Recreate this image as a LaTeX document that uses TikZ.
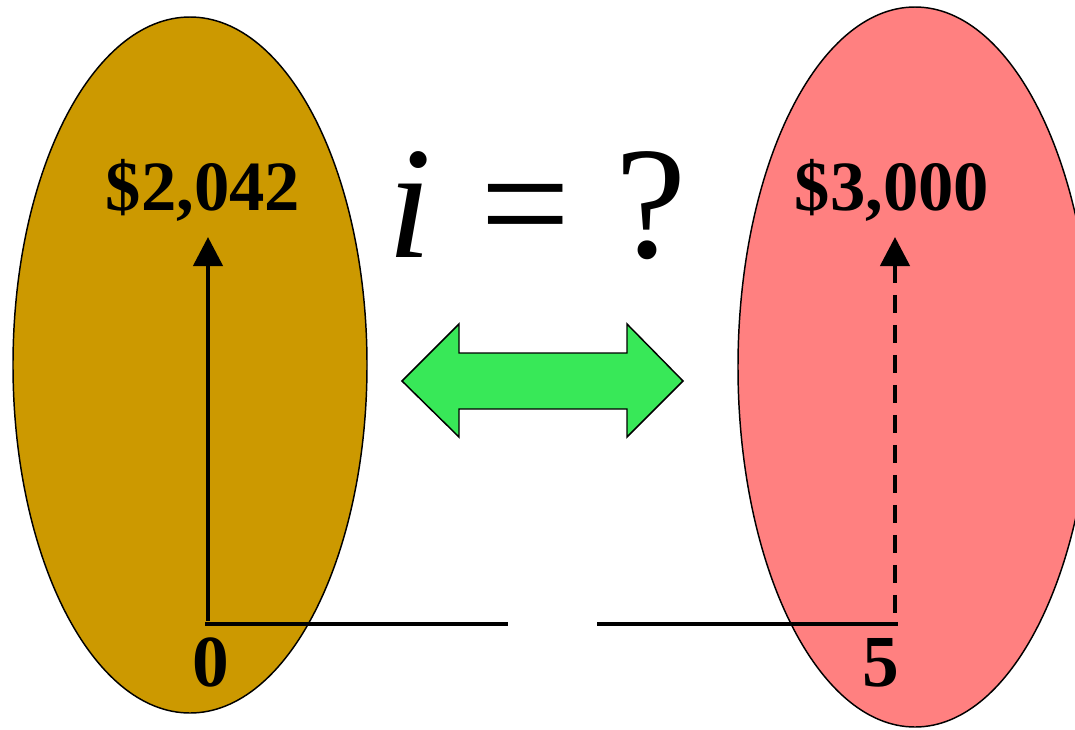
\documentclass[tikz,border=0pt]{standalone}
\usepackage{fontspec}
\setmainfont{Liberation Serif}
\usetikzlibrary{arrows.meta}
\definecolor{gold}{RGB}{204,153,0}
\definecolor{pinkish}{RGB}{255,128,128}
\definecolor{arrgreen}{RGB}{56,232,88}
\tikzset{
  blob/.style={draw=black, line width=1.1pt},
  axis/.style={line width=3.4pt, line cap=butt},
  cflow/.style={line width=3.4pt, -{Triangle[width=21.75pt,length=21.75pt]}},
  dflow/.style={line width=3.4pt, dash pattern=on 13.5pt off 9pt, {Triangle[width=21.75pt,length=21.75pt]}-},
  money/.style={font=\fontsize{53}{60}\selectfont\bfseries, anchor=base, inner sep=0pt},
  period/.style={font=\fontsize{55}{60}\selectfont\bfseries, anchor=base, inner sep=0pt},
  bigq/.style={font=\fontsize{120}{130}\selectfont, anchor=base, inner sep=0pt},
  dbl/.style={draw=black, line width=1.1pt, fill=arrgreen, line join=miter}
}
\begin{document}
\begin{tikzpicture}[x=0.75pt, y=-0.75pt]
\useasboundingbox (0,0) rectangle (1075,729);
\clip (0,0) rectangle (1075,729);
\fill[white] (0,0) rectangle (1075,729);
% ellipses
\draw[blob, fill=gold] (190,365) ellipse [x radius=177, y radius=348];
\draw[blob, fill=pinkish] (915,367) ellipse [x radius=177, y radius=360];
% coordinates
\coordinate (c0) at (208,624);
\coordinate (c5) at (895,624);
\coordinate (t0) at (208,237);
\coordinate (t5) at (895,237);
\coordinate (gl) at (508,624);
\coordinate (gr) at (597,624);
% time axis
\draw[axis] ([xshift=-2.25]c0) -- (gl);
\draw[axis] (gr) -- ([xshift=2.25]c5);
% cash flows
\draw[cflow] ([yshift=2.25]c0) -- (t0);
\draw[dflow] (t5) -- ([yshift=2.25]c5);
% labels
\node[money] (m0) at (203,210) {\$2,042};
\node[money] (m5) at (892,210) {\$3,000};
\node[period] (p0) at (211,686) {0};
\node[period] (p5) at (881,686) {5};
\node[bigq] (q) at (537,257) {\textit{i}\hspace{0.3em}=\hspace{0.28em}?};
% double arrow
\draw[dbl] (402,381) -- (459,324) -- (459,353) -- (627,353) -- (627,324) -- (683,381)
  -- (627,437) -- (627,409) -- (459,409) -- (459,437) -- cycle;
\end{tikzpicture}
\end{document}
